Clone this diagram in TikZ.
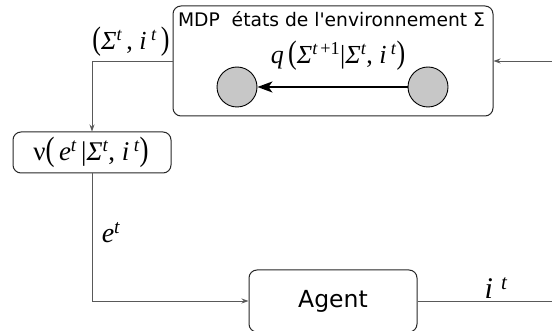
\documentclass[tikz,border=0pt]{standalone}
\usepackage{fontspec}
\newfontfamily\dejavu{DejaVu Sans}
\newfontfamily\tnr{Liberation Serif}
\newcommand\tsup[1]{\textsuperscript{\itshape #1}}
\newcommand\bigpar[1]{\scalebox{1}[1.25]{#1}}
\usetikzlibrary{arrows.meta}
\tikzset{
  rbox/.style={draw=black!85, line width=1pt, rounded corners=8pt, inner sep=0pt},
  state/.style={circle, draw=black, line width=0.9pt, fill=black!22, minimum size=40pt, inner sep=0pt},
  conn/.style={draw=black!65, line width=0.9pt},
  arr/.style={-{Stealth[length=7pt,width=5pt]}},
  lab/.style={inner sep=0pt, font=\tnr\fontsize{22}{24}\selectfont},
}
\begin{document}
\begin{tikzpicture}[x=1pt,y=-1pt]
\useasboundingbox (0,0) rectangle (552,331);
\clip (0,0) rectangle (552,331);
% MDP box
\node[rbox, minimum width=320pt, minimum height=110pt] (mdp) at (333,61) {};
\node[inner sep=0pt, anchor=base, font=\dejavu\fontsize{18.7}{20}\selectfont] (title) at (331.5,27) {MDP\ \ états de l'environnement Σ};
\node[state] (s1) at (237,87) {};
\node[state] (s2) at (428,87) {};
\draw[line width=2pt, -{Stealth[length=15pt,width=11pt,inset=4pt]}] (s2) -- (s1);
\node[lab, font=\tnr\fontsize{26}{28}\selectfont] (q) at (338,56) {\textit{q}\,\bigpar{(}\textit{Σ}\textsuperscript{\itshape t\,\upshape+1}|\textit{Σ}\tsup{t}, \textit{i}\,\tsup{t}\bigpar{)}};
% nu box
\node[rbox, minimum width=158pt, minimum height=41pt] (nu) at (92,152.5) {};
\node[inner sep=0pt, font=\tnr\fontsize{27}{29}\selectfont] (nutext) at (91,152) {ν\bigpar{(}\,\textit{e}\tsup{t}\,|\textit{Σ}\tsup{t}, \textit{i}\,\tsup{t}\bigpar{)}};
% Agent box
\node[rbox, minimum width=168pt, minimum height=62pt, font=\dejavu\fontsize{23.5}{25}\selectfont] (agent) at (333,301) {Agent};
% connectors
\coordinate (r1) at (557,301);
\draw[conn, arr] (mdp.west) -| (nu.north);
\draw[conn, arr] (nu.south) |- (agent.west);
\draw[conn, arr] (agent.east) -- (r1) |- (mdp.east);
% labels
\node[lab, font=\tnr\fontsize{26}{28}\selectfont] (l1) at (131,42) {\bigpar{(}\textit{Σ}\tsup{t}\,, \textit{i}\,\tsup{t}\,\bigpar{)}};
\node[lab, font=\tnr\fontsize{28}{30}\selectfont] (l2) at (111,233) {\textit{e}\tsup{t}};
\node[lab, font=\tnr\fontsize{30}{32}\selectfont] (l3) at (496,288) {\textit{i}\;\tsup{t}};
\end{tikzpicture}
\end{document}
